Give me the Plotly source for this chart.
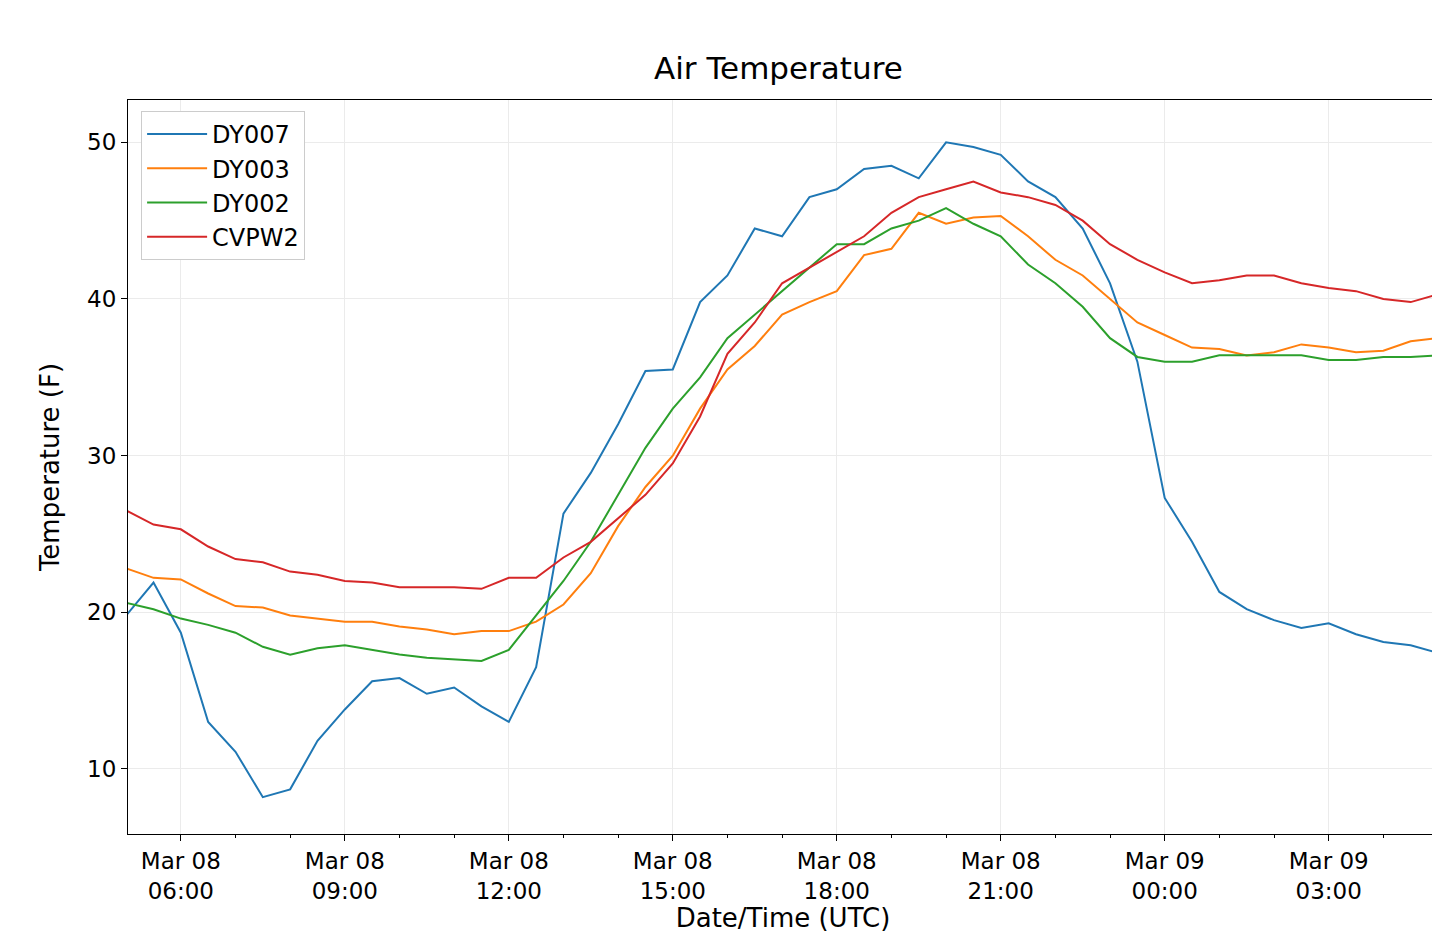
import pandas as pd
import plotly.graph_objects as go

times = pd.date_range("2019-03-08 05:00", "2019-03-09 05:00", freq="30min")

dy007 = [19.8, 21.9, 18.7, 13.0, 11.1, 8.2, 8.7, 11.8, 13.8, 15.6, 15.8, 14.8, 15.2,
         14.0, 13.0, 16.5, 26.3, 28.9, 32.0, 35.4, 35.5, 39.8, 41.5, 44.5, 44.0, 46.5,
         47.0, 48.3, 48.5, 47.7, 50.0, 49.7, 49.2, 47.5, 46.5, 44.5, 41.0, 36.0, 27.3,
         24.5, 21.3, 20.2, 19.5, 19.0, 19.3, 18.6, 18.1, 17.9, 17.4]
dy003 = [22.8, 22.2, 22.1, 21.2, 20.4, 20.3, 19.8, 19.6, 19.4, 19.4, 19.1, 18.9, 18.6,
         18.8, 18.8, 19.4, 20.5, 22.5, 25.5, 28.0, 30.0, 33.0, 35.5, 37.0, 39.0, 39.8,
         40.5, 42.8, 43.2, 45.5, 44.8, 45.2, 45.3, 44.0, 42.5, 41.5, 40.0, 38.5, 37.7,
         36.9, 36.8, 36.4, 36.6, 37.1, 36.9, 36.6, 36.7, 37.3, 37.5]
dy002 = [20.6, 20.2, 19.6, 19.2, 18.7, 17.8, 17.3, 17.7, 17.9, 17.6, 17.3, 17.1, 17.0,
         16.9, 17.6, 19.8, 22.0, 24.5, 27.5, 30.5, 33.0, 35.0, 37.5, 39.0, 40.5, 42.0,
         43.5, 43.5, 44.5, 45.0, 45.8, 44.8, 44.0, 42.2, 41.0, 39.5, 37.5, 36.3, 36.0,
         36.0, 36.4, 36.4, 36.4, 36.4, 36.1, 36.1, 36.3, 36.3, 36.4]
cvpw2 = [26.5, 25.6, 25.3, 24.2, 23.4, 23.2, 22.6, 22.4, 22.0, 21.9, 21.6, 21.6, 21.6,
         21.5, 22.2, 22.2, 23.5, 24.5, 26.0, 27.5, 29.5, 32.5, 36.5, 38.5, 41.0, 42.0,
         43.0, 44.0, 45.5, 46.5, 47.0, 47.5, 46.8, 46.5, 46.0, 45.0, 43.5, 42.5, 41.7,
         41.0, 41.2, 41.5, 41.5, 41.0, 40.7, 40.5, 40.0, 39.8, 40.3]

series = [("DY007", dy007, "#1f77b4"), ("DY003", dy003, "#ff7f0e"),
          ("DY002", dy002, "#2ca02c"), ("CVPW2", cvpw2, "#d62728")]

tick_times = pd.date_range("2019-03-08 06:00", "2019-03-09 03:00", freq="3h")
tick_text = [t.strftime("%b %d<br>%H:%M") for t in tick_times]

fig = go.Figure()
for name, vals, color in series:
    fig.add_trace(go.Scatter(x=times, y=vals, mode="lines", name=name,
                             line=dict(color=color, width=2)))

axis_common = dict(showline=True, linecolor="black", linewidth=1, mirror=True,
                   ticks="outside", ticklen=6, tickcolor="black",
                   gridcolor="#ebebeb", zeroline=False, automargin=False,
                   tickfont=dict(size=23, color="black"))

fig.update_layout(
    width=1440, height=942,
    paper_bgcolor="white", plot_bgcolor="white",
    font=dict(family="DejaVu Sans", color="black"),
    margin=dict(l=120, r=10, t=92, b=116, autoexpand=False),
    title=dict(text="Air Temperature", x=0.535, xanchor="center", y=0.948,
               font=dict(size=31)),
    legend=dict(x=0.01, y=0.985, xanchor="left", yanchor="top",
                bordercolor="#cccccc", borderwidth=1, bgcolor="white",
                itemwidth=60, font=dict(size=24)),
    showlegend=True,
)
fig.update_xaxes(range=[pd.Timestamp("2019-03-08 05:02"), pd.Timestamp("2019-03-09 05:00")],
                 tickvals=tick_times, ticktext=tick_text,
                 minor=dict(dtick=3600000, ticks="outside", ticklen=3, tickcolor="black"),
                 title=dict(text="Date/Time (UTC)", font=dict(size=26), standoff=4),
                 **axis_common)
fig.update_yaxes(range=[5.85, 52.7], tickvals=[10, 20, 30, 40, 50],
                 title=dict(text="Temperature (F)", font=dict(size=26), standoff=20),
                 **axis_common)

fig.write_html("out.html")
